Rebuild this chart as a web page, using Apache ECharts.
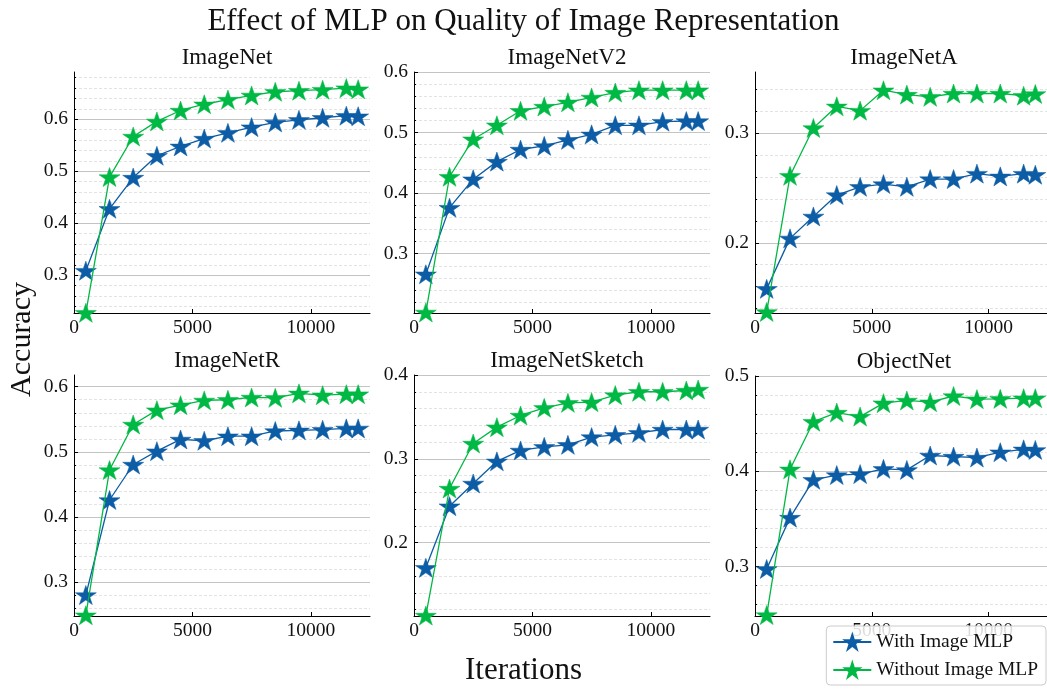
<!DOCTYPE html>
<html>
<head>
<meta charset="utf-8">
<script src="https://cdn.jsdelivr.net/npm/echarts@6/dist/echarts.min.js"></script>
<style>html,body{margin:0;padding:0;background:#fff;}#c{width:1047px;height:689px;}</style>
</head>
<body>
<div id="c"></div>
<script>
const iterations = [500,1500,2500,3500,4500,5500,6500,7500,8500,9500,10500,11500,12000];
const panelTitles = ['ImageNet','ImageNetV2','ImageNetA','ImageNetR','ImageNetSketch','ObjectNet'];
const seriesNames = ['With Image MLP','Without Image MLP'];
const xTicks = [0,5000,10000];
const yTicks = [
  [0.3,0.4,0.5,0.6],
  [0.3,0.4,0.5,0.6],
  [0.2,0.3],
  [0.3,0.4,0.5,0.6],
  [0.2,0.3,0.4],
  [0.3,0.4,0.5]
];

const imagenetWith    = [0.309,0.428,0.488,0.530,0.548,0.563,0.574,0.585,0.594,0.599,0.603,0.607,0.606];
const imagenetWithout = [0.228,0.489,0.567,0.596,0.617,0.629,0.638,0.646,0.653,0.655,0.657,0.660,0.658];
const v2With          = [0.266,0.376,0.423,0.452,0.472,0.478,0.488,0.497,0.512,0.512,0.518,0.519,0.519];
const v2Without       = [0.203,0.427,0.489,0.512,0.536,0.543,0.550,0.558,0.566,0.570,0.570,0.570,0.570];
const aWith           = [0.158,0.204,0.224,0.2435,0.251,0.2535,0.251,0.258,0.258,0.263,0.2605,0.263,0.262];
const aWithout        = [0.137,0.261,0.3046,0.3243,0.3204,0.339,0.335,0.333,0.336,0.336,0.336,0.334,0.3356];
const rWith           = [0.280,0.426,0.4805,0.501,0.519,0.517,0.524,0.524,0.532,0.533,0.534,0.536,0.536];
const rWithout        = [0.249,0.472,0.542,0.564,0.5717,0.579,0.580,0.5835,0.583,0.5898,0.587,0.5886,0.5886];
const sketchWith      = [0.170,0.2435,0.2706,0.297,0.310,0.3143,0.3167,0.326,0.3286,0.331,0.335,0.335,0.335];
const sketchWithout   = [0.113,0.2646,0.3183,0.3378,0.3517,0.3608,0.3668,0.3676,0.376,0.380,0.380,0.3815,0.3827];
const objWith         = [0.2974,0.3513,0.391,0.396,0.397,0.4025,0.4014,0.4165,0.4154,0.4144,0.420,0.423,0.4224];
const objWithout      = [0.249,0.402,0.452,0.4616,0.4574,0.4715,0.4743,0.4725,0.479,0.4757,0.476,0.4767,0.4767];

const withData = [imagenetWith, v2With, aWith, rWith, sketchWith, objWith];
const withoutData = [imagenetWithout, v2Without, aWithout, rWithout, sketchWithout, objWithout];

const FONT = 'Liberation Serif';
const BLUE = '#0C5DA5', GREEN = '#00B945';
const STAR = 'path://M50 0 L61.23 34.55 L97.55 34.55 L68.16 55.90 L79.39 90.45 L50 69.1 L20.61 90.45 L31.84 55.90 L2.45 34.55 L38.77 34.55 Z';

const grids = [
  {left:74, top:72, width:296, height:241},
  {left:414, top:72, width:296, height:241},
  {left:755, top:72, width:296, height:241},
  {left:74, top:375, width:296, height:241},
  {left:414, top:375, width:296, height:241},
  {left:755, top:376, width:296, height:240}
];
const yRanges = [[0.2276,0.691],[0.202,0.6],[0.136,0.3556],[0.2478,0.618],[0.1125,0.4],[0.248,0.5]];

function minorValues(range){
  const out = [];
  for (let k = Math.ceil(range[0]/0.02 - 1e-9); k*0.02 <= range[1] + 1e-9; k++) {
    const v = Math.round(k*2)/100;
    if (k % 5 !== 0 && v > range[0] + 1e-6 && v < range[1] - 1e-6) out.push(v);
  }
  return out;
}

const chart = echarts.init(document.getElementById('c'), null, {renderer:'canvas'});

const titles = [{
  text:'Effect of MLP on Quality of Image Representation', left:'center', top:1,
  textStyle:{fontFamily:FONT, fontSize:31, fontWeight:'normal', color:'#111'}
}];
const xAxes = [], yAxes = [], series = [];
grids.forEach((g,i)=>{
  titles.push({text:panelTitles[i], left:g.left+g.width/2 - (i%3===2?4:0), top:g.top-31, textAlign:'center',
    textStyle:{fontFamily:FONT, fontSize:23, fontWeight:'normal', color:'#111'}});
  xAxes.push({type:'value', gridIndex:i, min:0, max:12500, interval:5000,
    axisLine:{show:true, onZero:false, lineStyle:{color:'#000', width:1}},
    axisTick:{show:true, inside:true, length:4, lineStyle:{color:'#000'}},
    minorTick:{show:false}, splitLine:{show:false},
    axisLabel:{fontFamily:FONT, fontSize:19.5, color:'#111', margin:5, showMaxLabel:false,
      formatter:(v)=> xTicks.includes(v) ? String(v) : ''}
  });
  const range = yRanges[i];
  // major axis
  yAxes.push({type:'value', gridIndex:i, min:range[0], max:range[1],
    axisLine:{show:true, onZero:false, lineStyle:{color:'#000', width:1}},
    axisTick:{show:true, inside:true, length:4, lineStyle:{color:'#000'}, customValues:yTicks[i]},
    minorTick:{show:false},
    splitLine:{show:true, lineStyle:{color:'#c4c4c4', width:1.2}},
    minorSplitLine:{show:false},
    axisLabel:{fontFamily:FONT, fontSize:19.5, color:'#111', margin:6, customValues:yTicks[i],
      formatter:(v)=> v.toFixed(1)}
  });
  // minor axis (same scale)
  const mv = minorValues(range);
  yAxes.push({type:'value', gridIndex:i, min:range[0], max:range[1], position:'left', offset:0,
    axisLine:{show:false, onZero:false},
    axisTick:{show:true, inside:true, length:2, lineStyle:{color:'#000'}, customValues:mv},
    splitLine:{show:true, lineStyle:{color:'#dcdcdc', width:0.8, type:[3,2]}},
    axisLabel:{show:false, customValues:mv}
  });
  [withData[i], withoutData[i]].forEach((arr,k)=>{
    series.push({type:'line', name:seriesNames[k], xAxisIndex:i, yAxisIndex:2*i,
      data: iterations.map((x,j)=>[x, arr[j]]),
      symbol:STAR, symbolSize:[21,20], symbolKeepAspect:true, showAllSymbol:true,
      lineStyle:{color: k?GREEN:BLUE, width:1.3},
      itemStyle:{color: k?GREEN:BLUE, borderColor: k?GREEN:BLUE, borderWidth:0.5},
      emphasis:{disabled:true}, silent:true, animation:false, clip:true, z: 2+k});
  });
});

chart.setOption({
  animation:false,
  backgroundColor:'#fff',
  title: titles,
  grid: grids.map(g=>Object.assign({containLabel:false}, g)),
  xAxis: xAxes, yAxis: yAxes, series: series,
  legend:{data:seriesNames, orient:'vertical', right:1, bottom:4, itemWidth:38, itemHeight:18, itemGap:8,
    padding:[6,8,5,6], borderColor:'#cccccc', borderWidth:1, borderRadius:4, backgroundColor:'rgba(255,255,255,0.85)',
    textStyle:{fontFamily:FONT, fontSize:19.5, color:'#111'}},
  graphic:[
    {type:'text', left:7, top:282, rotation:Math.PI/2,
      style:{text:'Accuracy', font:'30px "Liberation Serif"', fill:'#111'}},
    {type:'text', left:'center', top:655,
      style:{text:'Iterations', font:'31px "Liberation Serif"', fill:'#111'}}
  ]
});
</script>
</body>
</html>
